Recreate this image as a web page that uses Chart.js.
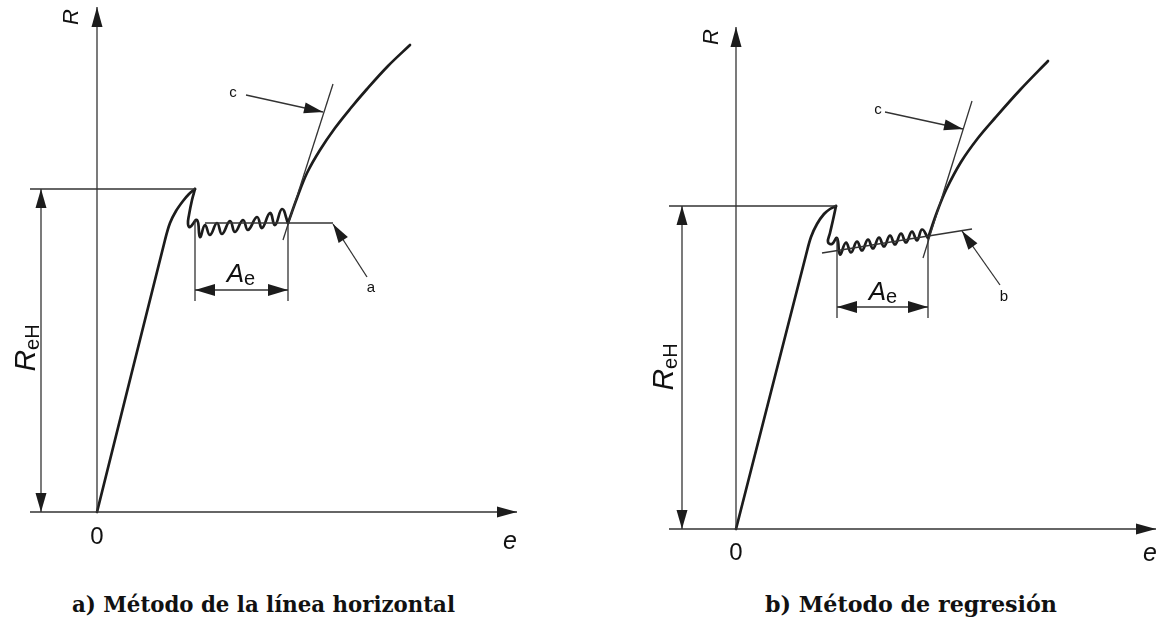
<!DOCTYPE html>
<html>
<head>
<meta charset="utf-8">
<script src="https://cdn.jsdelivr.net/npm/chart.js@4/dist/chart.umd.min.js"></script>
<style>
  html, body { margin: 0; padding: 0; background: #fff; }
  body { width: 1158px; height: 623px; position: relative; overflow: hidden; }
  canvas { position: absolute; top: 0; }
  #chartA { left: 0; }
  #chartB { left: 579px; }
  .caption {
    position: absolute; top: 593px;
    font: bold 22px "DejaVu Serif", serif; line-height: 22px;
    color: #111; white-space: nowrap; transform-origin: 0 0;
  }
</style>
</head>
<body>
<canvas id="chartA" width="579" height="565"></canvas>
<canvas id="chartB" width="579" height="565"></canvas>
<div class="caption" id="captionA">a) Método de la línea horizontal</div>
<div class="caption" id="captionB">b) Método de regresión</div>
<script>
// ---- (a) horizontal-line method: stress R versus extension e ----
const aElastic   = [[0,0],[6.8,27.2],[7.3,28.9],[7.9,30.1],[8.6,31.1],[9.2,31.8],[9.8,32.3]];
const aYield     = [[9.8,32.3],[9.5,31.2],[9.2,29.7],[9.1,28.8],[9.3,28.5],[10.0,29.2],
                    [10.3,27.5],[10.8,28.7],[11.3,27.7],[12.0,28.9],[12.5,27.8],[13.3,29.1],
                    [13.8,28.0],[14.6,29.2],[15.1,28.2],[16.0,29.5],[16.5,28.4],[17.3,29.9],
                    [17.8,28.7],[18.5,30.3],[19.1,28.9]];
const aHardening = [[19.1,28.9],[20.0,31.4],[21.0,33.9],[22.3,36.2],[23.8,38.4],[25.3,40.3],
                    [27.0,42.3],[29.1,44.6],[31.3,46.7]];
const aReHLevel  = [[-6.7,32.3],[9.8,32.3]];
const aHorizLine = [[10.8,28.9],[23.6,28.9]];
const aTangent   = [[18.6,27.2],[23.6,42.8]];
const aAeLeft    = [[9.8,29.2],[9.8,21.1]];
const aAeRight   = [[19.1,28.9],[19.1,21.1]];
const aAeDim     = [[9.8,22.2],[19.1,22.2]];
const aReHDim    = [[-5.6,0],[-5.6,32.3]];
const aAxisE     = [[-6.7,0],[42.0,0]];
const aAxisR     = [[0,0],[0,50.5]];
const aLeaderC   = [[14.9,41.7],[22.6,40.0]];
const aLeaderA   = [[27.0,23.5],[23.6,28.8]];

// ---- (b) regression method ----
const bElastic   = [[0,0],[7.0,27.4],[7.5,29.2],[8.1,30.5],[8.8,31.5],[9.4,32.0],[10.0,32.3]];
const bYield     = [[10.0,32.3],[9.7,30.9],[9.4,29.6],[9.2,28.7],[9.6,28.5],[10.1,29.1],
                    [10.4,27.45],[11.0,28.65],[11.5,27.65],[12.1,28.75],[12.6,27.85],[13.2,28.95],
                    [13.7,28.05],[14.3,29.15],[14.8,28.25],[15.4,29.35],[15.9,28.45],[16.5,29.55],
                    [17.0,28.65],[17.6,29.75],[18.1,28.85],[18.6,29.95],[19.2,29.1]];
const bHardening = [[19.2,29.1],[20.1,31.7],[21.0,33.9],[22.5,36.7],[24.2,39.1],[25.9,41.1],
                    [28.4,43.9],[31.2,46.8]];
const bReHLevel  = [[-6.7,32.3],[10.0,32.3]];
const bRegLine   = [[8.6,27.6],[23.6,30.0]];
const bTangent   = [[18.7,27.1],[23.6,42.8]];
const bAeLeft    = [[10.1,29.1],[10.1,21.1]];
const bAeRight   = [[19.2,29.1],[19.2,21.1]];
const bAeDim     = [[10.1,22.2],[19.2,22.2]];
const bReHDim    = [[-5.4,0],[-5.4,32.3]];
const bAxisE     = [[-6.7,0],[42.0,0]];
const bAxisR     = [[0,0],[0,50.2]];
const bLeaderC   = [[14.9,41.7],[22.7,40.0]];
const bLeaderB   = [[26.4,24.4],[22.6,29.8]];

const INK = '#1c1c1c';
const THIN = '#333333';
const SANS = '"Liberation Sans", Arial, sans-serif';

function pts(arr) { return arr.map(p => ({ x: p[0], y: p[1] })); }

function curve(arr, tension) {
  return { data: pts(arr), showLine: true, borderColor: INK, borderWidth: 2.7,
           pointRadius: 0, tension: tension, fill: false, clip: false,
           borderCapStyle: 'round', borderJoinStyle: 'round' };
}
function thin(arr) {
  return { data: pts(arr), showLine: true, borderColor: THIN, borderWidth: 1.3,
           pointRadius: 0, tension: 0, fill: false, clip: false };
}

// filled arrow heads at segment ends, and the text labels
const decor = {
  id: 'decor',
  afterDatasetsDraw(chart, args, opts) {
    const ctx = chart.ctx, sx = chart.scales.x, sy = chart.scales.y;
    const P = p => [sx.getPixelForValue(p[0]), sy.getPixelForValue(p[1])];
    ctx.save();
    ctx.fillStyle = INK;
    (opts.heads || []).forEach(h => {
      const [fx, fy] = P(h.from), [tx, ty] = P(h.to);
      const len = h.len || 20, half = h.half || 5.5;
      const dx = tx - fx, dy = ty - fy, d = Math.hypot(dx, dy);
      const ux = dx / d, uy = dy / d;
      const bx = tx - ux * len, by = ty - uy * len;
      ctx.beginPath();
      ctx.moveTo(tx, ty);
      ctx.lineTo(bx - uy * half, by + ux * half);
      ctx.lineTo(bx + uy * half, by - ux * half);
      ctx.closePath();
      ctx.fill();
    });
    ctx.fillStyle = '#111';
    ctx.textBaseline = 'alphabetic';
    ctx.textAlign = 'left';
    (opts.labels || []).forEach(l => {
      const [x, y] = P(l.at);
      let w = 0;
      l.parts.forEach(p => { ctx.font = p.font; w += ctx.measureText(p.t).width; });
      ctx.save();
      ctx.translate(x, y);
      if (l.rotate) ctx.rotate(l.rotate);
      let cx = -w / 2;
      l.parts.forEach(p => {
        ctx.font = p.font;
        ctx.fillText(p.t, cx, (l.base || 0) + (p.dy || 0));
        cx += ctx.measureText(p.t).width;
      });
      ctx.restore();
    });
    ctx.restore();
  }
};

function headsFor(axE, axR, reh, ae, leaders) {
  return [
    { from: axE[0], to: axE[1], len: 20, half: 5.5 },
    { from: axR[0], to: axR[1], len: 20, half: 5.5 },
    { from: reh[0], to: reh[1], len: 19, half: 5.5 },
    { from: reh[1], to: reh[0], len: 19, half: 5.5 },
    { from: ae[0], to: ae[1], len: 20, half: 6 },
    { from: ae[1], to: ae[0], len: 20, half: 6 },
    ...leaders.map(l => ({ from: l[0], to: l[1], len: 19, half: 5.5 }))
  ];
}

function labelsFor(pos, key) {
  return [
    { at: pos.R, rotate: -Math.PI / 2, base: 8, parts: [{ t: 'R', font: 'italic 22px ' + SANS }] },
    { at: pos.zero, base: 9, parts: [{ t: '0', font: '24px ' + SANS }] },
    { at: pos.e, base: 8, parts: [{ t: 'e', font: 'italic 25px ' + SANS }] },
    { at: pos.c, base: 5, parts: [{ t: 'c', font: '15px ' + SANS }] },
    { at: pos.key, base: 5, parts: [{ t: key, font: '15px ' + SANS }] },
    { at: pos.Ae, base: 9, parts: [{ t: 'A', font: 'italic 26px ' + SANS },
                                   { t: 'e', font: '20px ' + SANS, dy: 3 }] },
    { at: pos.ReH, rotate: -Math.PI / 2, base: 10, parts: [{ t: 'R', font: 'italic 30px ' + SANS },
                                   { t: 'eH', font: '20px ' + SANS, dy: 4 }] }
  ];
}

function makeChart(id, datasets, xr, yr, heads, labels) {
  return new Chart(document.getElementById(id), {
    type: 'scatter',
    data: { datasets },
    options: {
      responsive: false, animation: false, events: [],
      layout: { padding: 0 },
      scales: {
        x: { type: 'linear', display: false, min: xr[0], max: xr[1] },
        y: { type: 'linear', display: false, min: yr[0], max: yr[1] }
      },
      plugins: { legend: { display: false }, tooltip: { enabled: false },
                 decor: { heads, labels } }
    },
    plugins: [decor]
  });
}

makeChart('chartA', [
    thin(aAxisE), thin(aAxisR), thin(aReHLevel), thin(aHorizLine), thin(aTangent),
    thin(aAeLeft), thin(aAeRight), thin(aAeDim), thin(aReHDim), thin(aLeaderC), thin(aLeaderA),
    curve(aElastic, 0.35), curve(aYield, 0.45), curve(aHardening, 0.35)
  ],
  [-9.7, 48.2], [-5.3, 51.2],
  headsFor(aAxisE, aAxisR, aReHDim, aAeDim, [aLeaderC, aLeaderA]),
  labelsFor({ R: [-2.7, 49.5], zero: [0, -2.3], e: [41.3, -2.9], c: [13.6, 42.0],
              key: [27.4, 22.5], Ae: [14.4, 23.9], ReH: [-7.2, 16.4] }, 'a'));

makeChart('chartB', [
    thin(bAxisE), thin(bAxisR), thin(bReHLevel), thin(bRegLine), thin(bTangent),
    thin(bAeLeft), thin(bAeRight), thin(bAeDim), thin(bReHDim), thin(bLeaderC), thin(bLeaderB),
    curve(bElastic, 0.35), curve(bYield, 0.45), curve(bHardening, 0.35)
  ],
  [-15.7, 42.2], [-3.6, 52.9],
  headsFor(bAxisE, bAxisR, bReHDim, bAeDim, [bLeaderC, bLeaderB]),
  labelsFor({ R: [-2.6, 49.2], zero: [0, -2.2], e: [41.4, -2.4], c: [14.2, 42.0],
              key: [26.8, 23.3], Ae: [14.7, 23.8], ReH: [-7.3, 16.2] }, 'b'));

// captions, stretched to their printed width
function fitCaption(id, left, width) {
  const el = document.getElementById(id);
  el.style.left = left + 'px';
  const w = el.getBoundingClientRect().width;
  el.style.transform = 'scaleX(' + (width / w) + ')';
}
fitCaption('captionA', 72, 383);
fitCaption('captionB', 765, 292);
</script>
</body>
</html>
